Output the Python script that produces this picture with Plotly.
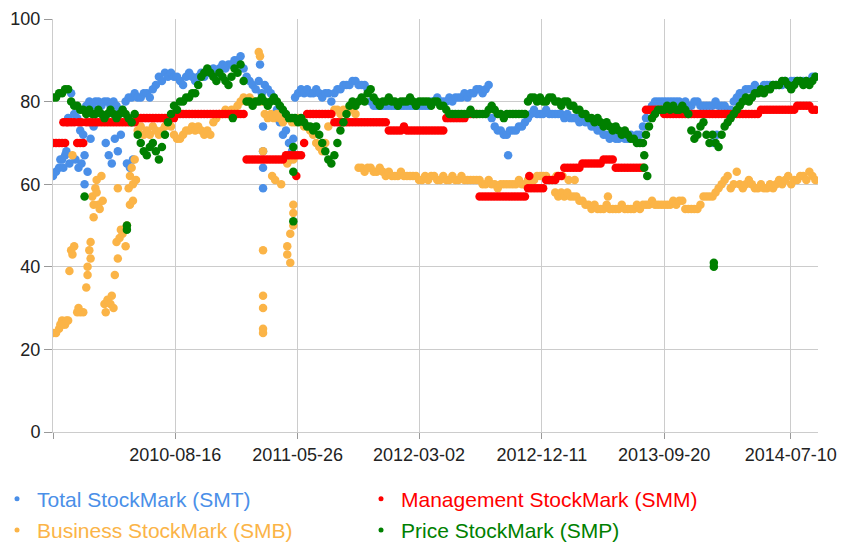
import pandas as pd
import plotly.graph_objects as go

# ---------------- data (weekly readings, week 0 = 2009-11-06) ----------------
START_DATE = "2009-11-06"

SMT = [62, 63, 64, 66, 67, 76, 82, 77, 76, 73,
       72, 79, 80, 79, 80, 80, 79, 80, 80, 79,
       80, 79, 78, 78, 80, 81, 81, 82, 81, 81,
       82, 82, 81, 83, 84, 86, 85, 87, 86, 87,
       86, 86, 85, 84, 86, 87, 86, 85, 86, 87,
       86, 87, 87, 88, 87, 88, 89, 88, 89, 89,
       90, 90, 91, 88, 86, 85, 84, 83, 85, 82,
       84, 83, 82, 81, 78, 75, 72, 73, 70, 68,
       81, 82, 83, 82, 83, 82, 82, 83, 82, 81,
       82, 82, 80, 82, 83, 83, 84, 84, 84, 85,
       85, 84, 84, 84, 83, 80, 79, 79, 79, 79,
       79, 79, 79, 79, 79, 79, 79, 79, 79, 79,
       79, 79, 79, 79, 79, 80, 80, 81, 80, 80,
       80, 81, 80, 81, 81, 81, 82, 81, 82, 82,
       83, 83, 82, 83, 84, 76, 74, 73, 73, 72,
       72, 73, 73, 73, 74, 74, 75, 76, 77, 78,
       77, 77, 77, 78, 77, 77, 77, 77, 77, 76,
       77, 76, 76, 76, 75, 76, 75, 75, 74, 74,
       73, 73, 72, 72, 71, 72, 71, 71, 72, 71,
       71, 72, 71, 72, 72, 74, 76, 78, 79, 80,
       80, 80, 80, 80, 80, 80, 80, 80, 79, 80,
       79, 79, 80, 80, 79, 79, 79, 79, 79, 80,
       79, 79, 79, 78, 78, 80, 81, 82, 82, 83,
       83, 83, 84, 83, 83, 84, 84, 84, 84, 84,
       84, 84, 85, 84, 85, 85, 85, 85, 85, 85,
       85, 86, 86]
SMT_extra_week = [2, 3, 4, 5, 7, 8, 9, 10, 10, 11, 12, 13, 17, 18, 19, 20, 21, 22,
                  24, 25, 26, 68, 69, 69, 69, 69, 78, 79, 150, 218, 219]
SMT_extra_val = [66, 64, 68, 65, 66, 64, 65, 60, 67, 63, 71, 74, 70, 67, 65, 71, 68, 72,
                 65, 64, 66, 89, 74, 68, 64, 59, 66, 71, 67, 70, 72]

SMB = [24, 24, 25, 27, 26, 27, 44, 45, 29, 29,
       29, 35, 44, 57, 59, 55, 62, 31, 32, 31,
       30, 46, 47, 48, 45, 59, 64, 66, 73, 74,
       72, 73, 72, 74, 73, 72, 73, 74, 75, 74,
       72, 71, 71, 72, 73, 73, 74, 73, 74, 73,
       72, 73, 72, 75, 76, 77, 77, 78, 77, 78,
       78, 79, 80, 81, 80, 81, 80, 80, 92, 80,
       77, 76, 77, 76, 77, 76, 75, 76, 76, 75,
       75, 76, 75, 74, 74, 73, 72, 70, 69, 68,
       70, 74, 77, 78, 78, 77, 78, 77, 78, 78,
       77, 64, 64, 63, 64, 64, 63, 63, 64, 63,
       62, 63, 62, 62, 62, 63, 62, 62, 62, 62,
       62, 61, 61, 62, 61, 62, 62, 61, 61, 62,
       61, 61, 62, 61, 61, 62, 61, 61, 61, 61,
       61, 61, 60, 60, 61, 60, 60, 59, 60, 60,
       60, 60, 60, 60, 61, 60, 60, 61, 61, 61,
       62, 62, 62, 62, 61, 61, 58, 57, 58, 57,
       58, 57, 57, 57, 56, 56, 55, 55, 54, 55,
       54, 54, 54, 55, 54, 54, 54, 54, 55, 54,
       54, 54, 54, 55, 54, 55, 55, 55, 56, 55,
       55, 55, 55, 55, 55, 56, 55, 56, 56, 54,
       54, 54, 54, 54, 55, 57, 57, 57, 57, 58,
       59, 60, 61, 62, 59, 60, 63, 60, 59, 60,
       61, 60, 59, 59, 60, 59, 59, 60, 59, 60,
       61, 60, 61, 62, 60, 61, 61, 62, 62, 61,
       63, 62, 61]
SMB_extra_week = [2, 3, 4, 5, 6, 6, 8, 11, 11, 12, 12, 13, 13, 14, 14, 15, 16, 17, 19,
                  20, 21, 21, 22, 24, 25, 25, 26, 26, 27, 68, 69, 69, 69, 69, 69, 69,
                  72, 73, 75, 77, 77, 77, 78, 78, 79, 79, 79, 79, 166, 168, 170, 172, 183]
SMB_extra_val = [26, 26, 27, 39, 43, 67, 30, 38, 40, 42, 46, 52, 55, 61, 58, 54, 56, 29, 33,
                 38, 42, 59, 49, 50, 55, 62, 56, 60, 61, 91, 68, 44, 33, 30, 25, 24,
                 62, 61, 60, 65, 43, 45, 41, 48, 50, 53, 55, 66, 62, 62, 61, 61, 57]

SMM = [70, 70, 70, 70, 70, 75, 75, 75, 70, 70,
       70, 75, 75, 75, 75, 75, 75, 75, 75, 75,
       75, 75, 75, 75, 75, 75, 75, 75, 76, 76,
       76, 76, 76, 76, 76, 76, 76, 76, 76, 76,
       76, 77, 77, 77, 77, 77, 77, 77, 77, 77,
       77, 77, 77, 77, 77, 77, 77, 77, 77, 77,
       77, 77, 77, 77, 66, 66, 66, 66, 66, 66,
       66, 66, 66, 66, 66, 66, 66, 67, 67, 67,
       67, 67, 67, 70, 77, 77, 77, 77, 77, 77,
       77, 77, 77, 75, 75, 75, 75, 75, 75, 75,
       75, 75, 75, 75, 75, 75, 75, 75, 75, 75,
       75, 73, 73, 73, 73, 73, 74, 73, 73, 73,
       73, 73, 73, 73, 73, 73, 73, 73, 73, 73,
       76, 76, 76, 76, 76, 76, 76, 77, 77, 77,
       77, 57, 57, 57, 57, 57, 57, 57, 57, 57,
       57, 57, 57, 57, 57, 57, 57, 59, 59, 59,
       59, 59, 59, 61, 61, 61, 61, 62, 62, 64,
       64, 64, 64, 64, 64, 65, 65, 65, 65, 65,
       65, 65, 66, 66, 66, 66, 64, 64, 64, 64,
       64, 64, 64, 64, 64, 64, 78, 78, 78, 78,
       78, 78, 77, 77, 77, 77, 77, 77, 77, 77,
       77, 77, 77, 77, 77, 77, 77, 77, 77, 77,
       77, 77, 77, 77, 77, 77, 77, 77, 77, 77,
       77, 77, 77, 77, 78, 78, 78, 78, 78, 78,
       78, 78, 78, 78, 78, 78, 79, 79, 79, 79,
       79, 78, 78]
SMM_extra_week = [3, 4, 8, 9, 80, 157]
SMM_extra_val = [75, 75, 75, 75, 62, 62]

SMP = [81, 81, 82, 82, 83, 83, 80, 79, 79, 78,
       78, 77, 78, 77, 77, 78, 77, 76, 77, 78,
       77, 76, 77, 78, 77, 76, 75, 77, 72, 70,
       68, 67, 69, 70, 68, 66, 69, 72, 75, 77,
       79, 78, 80, 80, 81, 81, 82, 82, 84, 86,
       87, 88, 87, 86, 85, 87, 86, 85, 84, 86,
       88, 87, 89, 85, 80, 80, 79, 80, 80, 81,
       80, 79, 80, 81, 80, 79, 78, 77, 76, 76,
       76, 75, 76, 75, 74, 74, 73, 74, 72, 70,
       68, 66, 65, 67, 70, 73, 75, 77, 79, 80,
       79, 80, 81, 80, 82, 83, 81, 80, 79, 80,
       80, 81, 80, 80, 79, 80, 80, 80, 81, 80,
       79, 80, 80, 80, 80, 79, 80, 80, 79, 79,
       78, 77, 77, 77, 77, 77, 77, 77, 78, 77,
       77, 77, 77, 77, 78, 79, 78, 77, 77, 76,
       77, 77, 77, 77, 77, 77, 77, 80, 81, 81,
       80, 81, 80, 80, 81, 81, 80, 80, 79, 80,
       80, 79, 79, 78, 78, 77, 77, 76, 76, 75,
       76, 75, 74, 75, 74, 73, 74, 73, 72, 73,
       72, 71, 71, 70, 70, 70, 72, 74, 76, 77,
       78, 78, 78, 79, 78, 79, 78, 78, 79, 78,
       77, 73, 71, 72, 74, 75, 72, 70, 72, 70,
       69, 72, 74, 75, 76, 77, 78, 79, 80, 81,
       80, 81, 82, 82, 83, 82, 83, 83, 84, 84,
       84, 85, 85, 84, 83, 84, 85, 85, 84, 85,
       84, 85, 86]
SMP_extra_week = [10, 24, 24, 59, 79, 79, 79, 195, 195, 196, 218, 218]
SMP_extra_val = [57, 50, 49, 76, 69, 63, 51, 67, 64, 62, 40, 41]

TICK_DATES = ["2009-11-06", "2010-08-16", "2011-05-26", "2012-03-02",
              "2012-12-11", "2013-09-20", "2014-07-10"]
TICK_TEXT = ["", "2010-08-16", "2011-05-26", "2012-03-02",
             "2012-12-11", "2013-09-20", "2014-07-10"]
Y_TICKS = [0, 20, 40, 60, 80, 100]

# ---------------- figure ----------------
start = pd.Timestamp(START_DATE)


def to_dates(weeks, offset=0):
    return [start + pd.Timedelta(days=7 * w + offset) for w in weeks]


series = [
    ("Total StockMark (SMT)", SMT, SMT_extra_week, SMT_extra_val, "#4a8fe8", 1),
    ("Business StockMark (SMB)", SMB, SMB_extra_week, SMB_extra_val, "#fbb447", 3),
    ("Management StockMark (SMM)", SMM, SMM_extra_week, SMM_extra_val, "#ff0000", 2),
    ("Price StockMark (SMP)", SMP, SMP_extra_week, SMP_extra_val, "#008000", 4),
]

fig = go.Figure()
for name, vals, ew, ev, color, rank in series:
    xs = to_dates(range(len(vals))) + to_dates(ew, 3)
    ys = list(vals) + list(ev)
    fig.add_trace(go.Scatter(
        x=xs, y=ys, mode="markers", name=name, showlegend=False,
        marker=dict(color=color, size=8.5, line=dict(width=0)),
    ))
# legend entries (small dots, coloured labels)
for name, vals, ew, ev, color, rank in series:
    fig.add_trace(go.Scatter(
        x=[None], y=[None], mode="markers",
        name=f"<span style='color:{color}'>{name}</span>",
        legendgroup=name, legendrank=rank, showlegend=True,
        marker=dict(color=color, size=5, line=dict(width=0)),
    ))

# the page adds an 8 px body margin, so the figure is 8 px smaller and margins shifted
font_family = "Arial, 'Liberation Sans', sans-serif"
fig.update_layout(
    width=843, height=536,
    margin=dict(l=45, r=33, t=11, b=112, autoexpand=False),
    paper_bgcolor="white", plot_bgcolor="white",
    font=dict(family=font_family, size=18, color="#222222"),
    showlegend=True,
    legend=dict(
        orientation="h", xref="container", yref="container",
        x=0.0, xanchor="left", y=0.122, yanchor="top",
        indentation=-11,
        entrywidth=330, entrywidthmode="pixels", tracegroupgap=1,
        font=dict(family=font_family, size=21),
        itemsizing="trace", bgcolor="rgba(0,0,0,0)",
    ),
)
fig.update_xaxes(
    type="date", range=["2009-11-06", "2014-09-11"], automargin=False,
    tickmode="array", tickvals=TICK_DATES, ticktext=TICK_TEXT,
    showgrid=True, gridcolor="#cccccc", gridwidth=1,
    showline=True, linecolor="#cccccc", linewidth=1,
    ticks="outside", ticklen=6, tickcolor="#999999",
    tickfont=dict(size=18, color="#222222"), zeroline=False,
)
fig.update_yaxes(
    range=[0, 100], tickmode="array", tickvals=Y_TICKS, automargin=False,
    showgrid=True, gridcolor="#cccccc", gridwidth=1,
    showline=True, linecolor="#cccccc", linewidth=1,
    ticks="outside", ticklen=8, tickcolor="#999999",
    tickfont=dict(size=18, color="#222222"), zeroline=False,
)

fig.write_html("out.html")
